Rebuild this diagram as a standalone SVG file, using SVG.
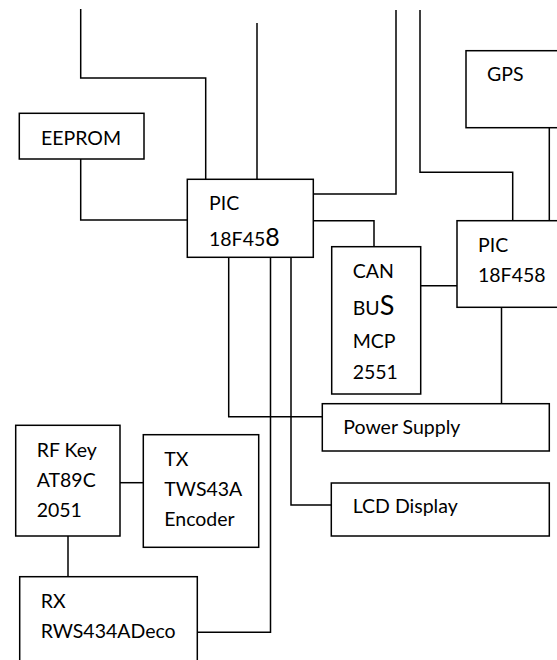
<svg xmlns="http://www.w3.org/2000/svg" width="557" height="660" viewBox="0 0 557 660">
<style>
.box{fill:#fff;stroke:#000;stroke-width:1.5}
.c{fill:none;stroke:#000;stroke-width:1.5}
text{font-family:Lato,"Liberation Sans",sans-serif;font-size:19.5px;fill:#000}
.big{font-size:25px}
.bigs{font-size:27px}
</style>
<rect width="557" height="660" fill="#fff"/>
<g id="connectors">
<path class="c" d="M80.7 9 V78 H205.7 V179.3"/>
<path class="c" d="M257 23 V179.3"/>
<path class="c" d="M396 10 V194 H313.3"/>
<path class="c" d="M420 10 V172.3 H512.7 V220.7"/>
<path class="c" d="M549.3 127.7 V220.7"/>
<path class="c" d="M80.7 159 V220 H187.3"/>
<path class="c" d="M313.3 220.7 H374 V246.7"/>
<path class="c" d="M420.7 285.7 H457"/>
<path class="c" d="M501.5 307.3 V403.7"/>
<path class="c" d="M228.7 257.3 V416.7 H322.3"/>
<path class="c" d="M291 257.3 V505 H331.3"/>
<path class="c" d="M270.5 257.3 V632.3 H197.3"/>
<path class="c" d="M120 482.7 H143.3"/>
<path class="c" d="M68 536 V576.7"/>
</g>
<g id="eeprom">
<rect class="box" x="19.3" y="113.3" width="124.7" height="45.7"/>
<text x="41" y="145">EEPROM</text>
</g>
<g id="gps">
<rect class="box" x="466" y="50.7" width="100" height="77"/>
<text x="487" y="81">GPS</text>
</g>
<g id="pic1">
<rect class="box" x="187.3" y="179.3" width="126" height="78"/>
<text x="209" y="210">PIC</text>
<text x="209" y="246">18F45<tspan class="big">8</tspan></text>
</g>
<g id="pic2">
<rect class="box" x="457" y="220.7" width="110" height="86.6"/>
<text x="478" y="252">PIC</text>
<text x="478" y="281.7">18F458</text>
</g>
<g id="canbus">
<rect class="box" x="331.7" y="246.7" width="89" height="147.3"/>
<text x="352.7" y="277.7">CAN</text>
<text x="352.7" y="315">BU<tspan class="bigs">S</tspan></text>
<text x="352.7" y="348">MCP</text>
<text x="352.7" y="379">2551</text>
</g>
<g id="power">
<rect class="box" x="322.3" y="403.7" width="227" height="47.3"/>
<text x="343.3" y="434.3">Power Supply</text>
</g>
<g id="lcd">
<rect class="box" x="331.3" y="483" width="218" height="53"/>
<text x="352.7" y="513.3">LCD Display</text>
</g>
<g id="rfkey">
<rect class="box" x="15.7" y="425.3" width="104.3" height="110.7"/>
<text x="36.7" y="456.7">RF Key</text>
<text x="36.7" y="486.7">AT89C</text>
<text x="36.7" y="516.7">2051</text>
</g>
<g id="tx">
<rect class="box" x="143.3" y="434.7" width="115.4" height="112.6"/>
<text x="164.3" y="465.7">TX</text>
<text x="164.3" y="495.7">TWS43A</text>
<text x="164.3" y="525.7">Encoder</text>
</g>
<g id="rx">
<rect class="box" x="19.7" y="576.7" width="177.6" height="100"/>
<text x="40.7" y="608.3">RX</text>
<text x="40.7" y="638.3">RWS434ADeco</text>
</g>
</svg>
